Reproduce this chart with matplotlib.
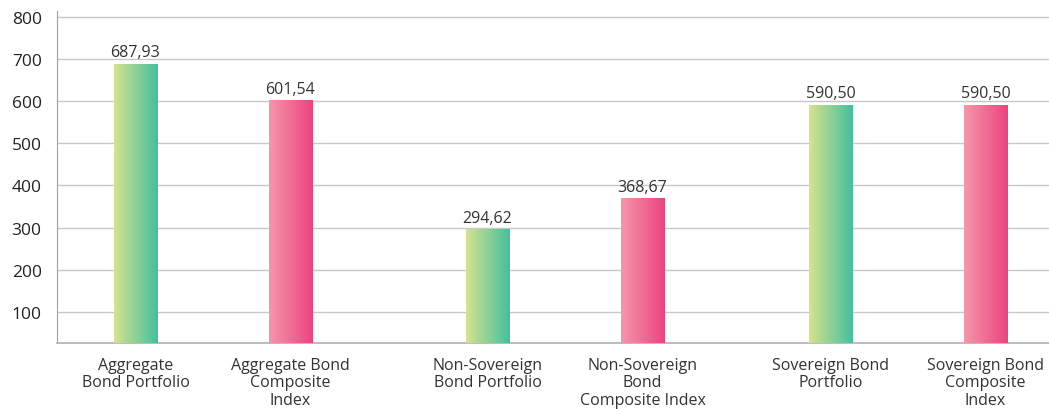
import numpy as np
import matplotlib.pyplot as plt
from matplotlib.colors import LinearSegmentedColormap

plt.rcParams['font.family'] = ['Open Sans', 'DejaVu Sans']

# data
groups = ["Aggregate", "Non-Sovereign", "Sovereign"]
labels = ["Aggregate\nBond Portfolio", "Aggregate Bond\nComposite\nIndex",
          "Non-Sovereign\nBond Portfolio", "Non-Sovereign\nBond\nComposite Index",
          "Sovereign Bond\nPortfolio", "Sovereign Bond\nComposite\nIndex"]
portfolio = [687.93, 294.62, 590.50]
composite = [601.54, 368.67, 590.50]
yticks = [100, 200, 300, 400, 500, 600, 700, 800]

GREEN = LinearSegmentedColormap.from_list("g", ["#d6e38e", "#44bf9d"])
PINK = LinearSegmentedColormap.from_list("p", ["#f497ab", "#ec437f"])
TXT = "#333333"

fig = plt.figure(figsize=(10.49, 4.10), dpi=100)
ax = fig.add_axes([0.0543, 0.161, 0.9457, 0.81])

x = np.array([0, 1.013, 2])
off, w = 0.223, 0.124
b1 = ax.bar(x - off, portfolio, w, color="none", zorder=3)
b2 = ax.bar(x + off, composite, w, color="none", zorder=3)

grad = np.linspace(0, 1, 256).reshape(1, -1)
for bars, cmap in [(b1, GREEN), (b2, PINK)]:
    for r in bars:
        x0, h = r.get_x(), r.get_height()
        ax.imshow(grad, cmap=cmap, aspect="auto", zorder=3,
                  extent=[x0, x0 + r.get_width(), 0, h])
        ax.text(x0 + r.get_width() / 2, h + 9, f"{h:.2f}".replace(".", ","),
                ha="center", va="bottom", fontsize=11.5, color=TXT)

ax.set_xlim(-0.449, 2.406)
ax.set_ylim(26.4, 814)
ax.set_yticks(yticks)
ax.tick_params(axis="y", length=0, pad=11, labelsize=12.5, labelcolor="#222222")
pos = np.sort(np.concatenate([x - off, x + off]))
ax.set_xticks(pos)
ax.set_xticklabels(labels, fontsize=11.5, color=TXT, linespacing=1.12)
ax.tick_params(axis="x", length=0, pad=10)
ax.grid(axis="y", color="#c8c8c8", lw=1, zorder=0)
for s in ["top", "right"]:
    ax.spines[s].set_visible(False)
ax.spines["left"].set_color("#a0a0a0")
ax.spines["bottom"].set_color("#b0b0b0")
ax.spines["bottom"].set_linewidth(1.2)

fig.savefig("out.png", dpi=100)
